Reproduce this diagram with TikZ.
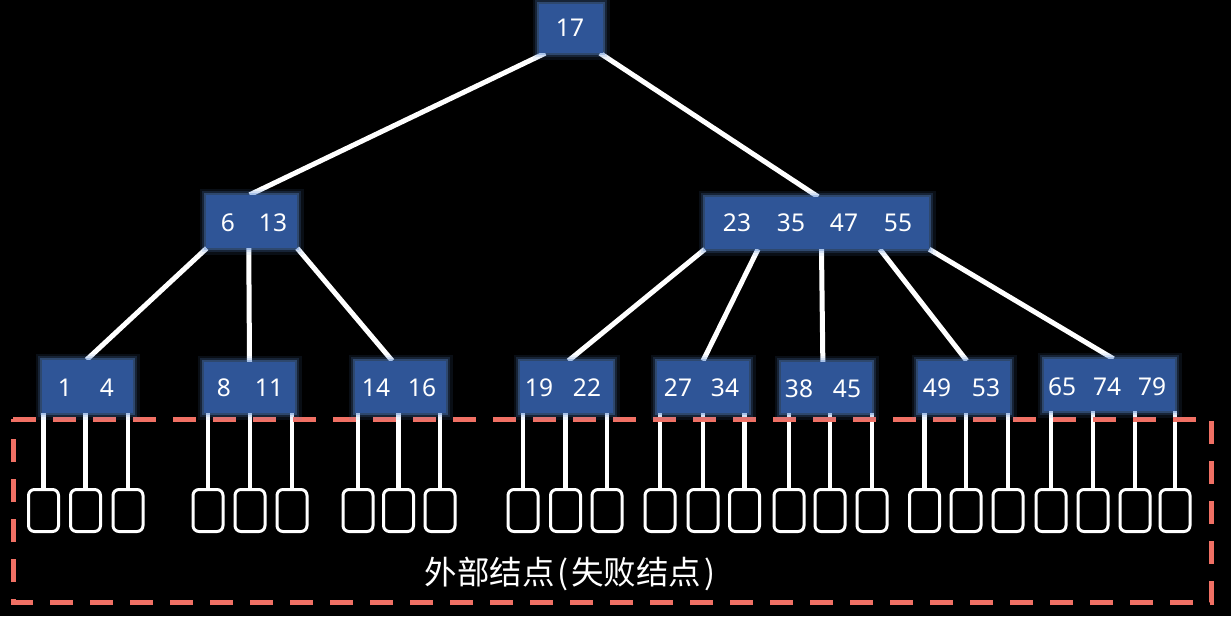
\documentclass[tikz,border=0pt]{standalone}
\usepackage{fontspec}
\setmainfont{Noto Sans}
\newfontfamily\cjkfont{Noto Sans CJK SC}
\usetikzlibrary{calc}
\pgfdeclarelayer{back}
\pgfdeclarelayer{bg}
\pgfsetlayers{back,bg,main}
\definecolor{bluefill}{RGB}{47,85,151}
\definecolor{glowc}{RGB}{90,140,215}
\definecolor{dashred}{RGB}{240,112,100}
\begin{document}
\begin{tikzpicture}[x=1pt,y=-1pt,
 keybox/.style={fill=bluefill, inner sep=0pt,
   preaction={draw=glowc, line width=13pt, draw opacity=0.1},
   preaction={draw=glowc, line width=8pt, draw opacity=0.18},
   preaction={draw=glowc, line width=3.5pt, draw opacity=0.35}},
 keytxt/.style={text=white, font=\fontsize{24.5}{28}\selectfont, inner sep=0pt},
 extbox/.style={draw=white, line width=3pt, rounded corners=6pt, minimum width=30pt, minimum height=42pt, inner sep=0pt, fill=black},
 treeedge/.style={draw=white, line width=5pt},
 extedge/.style={draw=white, line width=4.5pt},
 failframe/.style={draw=dashred, line width=5pt, dash pattern=on 23pt off 17pt}
]
\begin{pgfonlayer}{back}
\fill[black] (0,0) rectangle (1231,616);
\end{pgfonlayer}
\useasboundingbox (0,0) rectangle (1231,616);

% internal nodes
\node[keybox, minimum width=64pt, minimum height=49pt] (root) at (571,28.5) {};
\node[keytxt] (t0) at (570,28) {17};

\node[keybox, minimum width=91pt, minimum height=53pt] (n1) at (251.5,221.5) {};
\node[keytxt] (t1a) at (228,223) {6};
\node[keytxt] (t1b) at (273,223) {13};

\node[keybox, minimum width=224pt, minimum height=52pt] (n2) at (817,223) {};
\node[keytxt] (t2a) at (737,223) {23};
\node[keytxt] (t2b) at (791,223) {35};
\node[keytxt] (t2c) at (844,223) {47};
\node[keytxt] (t2d) at (898,223) {55};

% leaves
\node[keybox, minimum width=91pt, minimum height=53pt] (l1) at (87.5,386.5) {};
\node[keytxt] (a1) at (65,388) {1};
\node[keytxt] (a2) at (107,388) {4};

\node[keybox, minimum width=91pt, minimum height=51pt] (l2) at (249.5,387.5) {};
\node[keytxt] (b1) at (224,388) {8};
\node[keytxt] (b2) at (269,388) {11};

\node[keybox, minimum width=91pt, minimum height=52pt] (l3) at (400.5,387) {};
\node[keytxt] (c1) at (376,388) {14};
\node[keytxt] (c2) at (422,388) {16};

\node[keybox, minimum width=93pt, minimum height=52pt] (l4) at (566.5,387) {};
\node[keytxt] (d1) at (539,388) {19};
\node[keytxt] (d2) at (587,388) {22};

\node[keybox, minimum width=92pt, minimum height=52pt] (l5) at (703,387) {};
\node[keytxt] (f1) at (678,388) {27};
\node[keytxt] (f2) at (725,388) {34};

\node[keybox, minimum width=91pt, minimum height=51pt] (l6) at (826.5,387.5) {};
\node[keytxt] (g1) at (799,389) {38};
\node[keytxt] (g2) at (847,389) {45};

\node[keybox, minimum width=92pt, minimum height=52pt] (l7) at (964,387) {};
\node[keytxt] (h1) at (937,388) {49};
\node[keytxt] (h2) at (986,388) {53};

\node[keybox, minimum width=131pt, minimum height=52pt] (l8) at (1109.5,385) {};
\node[keytxt] (k1) at (1062,387) {65};
\node[keytxt] (k2) at (1107,387) {74};
\node[keytxt] (k3) at (1152,387) {79};

% external (failure) nodes
\foreach \nm/\xx in {e1/43.5,e2/85.5,e3/128,
                     e4/208,e5/250,e6/292,
                     e7/358,e8/398.5,e9/440,
                     e10/523,e11/565.5,e12/607,
                     e13/660,e14/703,e15/744.5,
                     e16/789,e17/830,e18/872,
                     e19/924.5,e20/966,e21/1008,
                     e22/1051,e23/1093,e24/1135,e25/1175}
  \node[extbox] (\nm) at (\xx,510.5) {};

\node[text=white, font=\cjkfont\fontsize{32.5}{36}\selectfont, inner sep=0pt] (cap) at (570,574) {外部结点\hspace{3pt}(\hspace{3pt}失败结点\hspace{3pt})\hspace{3pt}};

\begin{pgfonlayer}{bg}
% external connectors
\foreach \e/\l in {e1/l1,e2/l1,e3/l1,e4/l2,e5/l2,e6/l2,e7/l3,e8/l3,e9/l3,
                   e10/l4,e11/l4,e12/l4,e13/l5,e14/l5,e15/l5,e16/l6,e17/l6,e18/l6,
                   e19/l7,e20/l7,e21/l7,e22/l8,e23/l8,e24/l8,e25/l8}
  \draw[extedge] (\e.north) -- (\e.north |- \l.south);
% frame
\draw[failframe] (13,419) -- (1211,419) -- (1211,602.5) -- (13,602.5) -- cycle;
% tree edges
\draw[treeedge] ($(root.south west)!0.1!(root.south east)$) -- ($(n1.north west)!0.48!(n1.north east)$);
\draw[treeedge] ($(root.south west)!0.95!(root.south east)$) -- ($(n2.north west)!0.505!(n2.north east)$);
\draw[treeedge] ($(n1.south west)!0.01!(n1.south east)$) -- ($(l1.north west)!0.49!(l1.north east)$);
\draw[treeedge] ($(n1.south west)!0.47!(n1.south east)$) -- ($(l2.north west)!0.5!(l2.north east)$);
\draw[treeedge] ($(n1.south west)!1.0!(n1.south east)$) -- ($(l3.north west)!0.41!(l3.north east)$);
\draw[treeedge] ($(n2.south west)!0.0!(n2.south east)$) -- ($(l4.north west)!0.52!(l4.north east)$);
\draw[treeedge] ($(n2.south west)!0.237!(n2.south east)$) -- ($(l5.north west)!0.5!(l5.north east)$);
\draw[treeedge] ($(n2.south west)!0.52!(n2.south east)$) -- ($(l6.north west)!0.46!(l6.north east)$);
\draw[treeedge] ($(n2.south west)!0.78!(n2.south east)$) -- ($(l7.north west)!0.53!(l7.north east)$);
\draw[treeedge] ($(n2.south west)!1.0!(n2.south east)$) -- ($(l8.north west)!0.53!(l8.north east)$);
\end{pgfonlayer}
\end{tikzpicture}
\end{document}
